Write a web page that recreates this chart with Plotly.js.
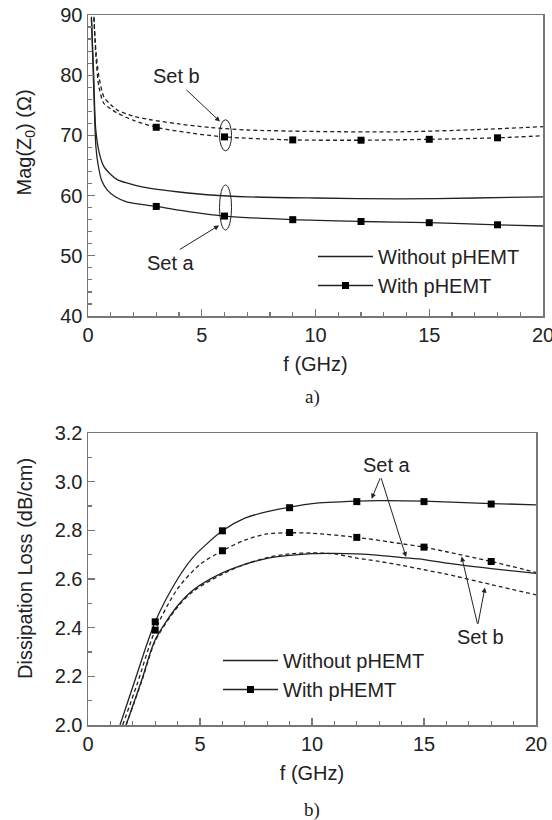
<!DOCTYPE html>
<html>
<head>
<meta charset="utf-8">
<script src="https://cdn.plot.ly/plotly-3.0.1.min.js"></script>
<style>html,body{margin:0;padding:0;background:#fff;}#chart{width:552px;height:820px;}</style>
</head>
<body>
<div id="chart"></div>
<script>
// ---------- (a) Mag(Z0) ----------
var aSetAWithoutX = [0.15,0.25,0.34,0.5,0.7,1.0,1.3,2.0,2.75,4,5.4,7,10,13.7,17,20];
var aSetAWithoutY = [89.7,80,71,67,64.8,63.5,62.6,61.8,61.2,60.6,60.1,59.8,59.6,59.45,59.6,59.8];
var aSetAWithX = [0.15,0.25,0.35,0.45,0.6,0.85,1.2,1.73,3,4.5,6,9,12,15,18,20];
var aSetAWithY = [89.5,78,68,65,62.5,60.9,59.8,58.9,58.2,57.3,56.6,56.0,55.7,55.5,55.15,54.95];
var aSetBWithoutX = [0.26,0.35,0.48,0.7,1.0,1.29,2,2.75,4,5.4,7,10,13.7,17,20];
var aSetBWithoutY = [89.7,84,79.8,76.4,75.1,74.2,73.2,72.6,71.9,71.3,70.9,70.65,70.6,70.95,71.45];
var aSetBWithX = [0.26,0.35,0.48,0.7,1.0,1.29,2,3,4.5,6,9,12,15,18,20];
var aSetBWithY = [89.5,83,78.1,75.3,74.4,73.7,72.5,71.35,70.4,69.75,69.25,69.2,69.35,69.6,69.95];
var markerX = [3,6,9,12,15,18];
var aSetAMarkY = [58.2,56.6,56.0,55.7,55.5,55.15];
var aSetBMarkY = [71.35,69.75,69.25,69.2,69.35,69.6];

// ---------- (b) Dissipation loss ----------
var bSetAWithX = [1.43,2.1,3,4,4.7,6,7,8,9,10,12,13,15,18,20];
var bSetAWithY = [2.0,2.185,2.424,2.60,2.69,2.798,2.85,2.877,2.895,2.91,2.92,2.922,2.92,2.91,2.905];
var bSetBWithX = [1.55,2.2,3,4,5,6,7,8,9,10,12,14,15,16,18,20];
var bSetBWithY = [2.0,2.17,2.39,2.56,2.66,2.716,2.76,2.785,2.79,2.788,2.771,2.745,2.731,2.712,2.672,2.627];
var bSetAWithoutX = [1.7,2.4,3,4,4.7,6,7,8,9,10,11,12,13,14,15,16,18,20];
var bSetAWithoutY = [2.0,2.185,2.35,2.49,2.555,2.625,2.66,2.685,2.697,2.704,2.705,2.703,2.697,2.688,2.68,2.665,2.643,2.623];
var bSetBWithoutX = [1.7,2.4,3,4,4.7,6,7,8,9,10,11,12,13,14,15,16,18,20];
var bSetBWithoutY = [2.0,2.18,2.345,2.485,2.55,2.62,2.66,2.688,2.703,2.707,2.703,2.686,2.672,2.656,2.638,2.62,2.577,2.535];
var bSetAMarkY = [2.424,2.798,2.893,2.918,2.918,2.908];
var bSetBMarkY = [2.39,2.716,2.791,2.771,2.731,2.672];

var legendNames = ['Without pHEMT', 'With pHEMT'];

var INK = '#222';
var FRAME = '#777';
var FONT = 'Liberation Sans, Arial, sans-serif';
var dashB = '4px,3px';

function line(x, y, xa, ya, dash, name, show, leg) {
  return {x: x, y: y, xaxis: xa, yaxis: ya, type: 'scatter', mode: 'lines',
    line: {color: INK, width: 1.3, dash: dash, shape: 'spline', smoothing: 0.8},
    name: name || '', showlegend: !!show, legend: leg || 'legend', hoverinfo: 'skip'};
}
function marks(x, y, xa, ya) {
  return {x: x, y: y, xaxis: xa, yaxis: ya, type: 'scatter', mode: 'markers',
    marker: {symbol: 'square', size: 7, color: '#000'}, showlegend: false, hoverinfo: 'skip'};
}
function legendWith(xa, ya, leg) {
  return {x: [null], y: [null], xaxis: xa, yaxis: ya, type: 'scatter', mode: 'lines+markers',
    line: {color: INK, width: 1.3}, marker: {symbol: 'square', size: 7, color: '#000'},
    name: legendNames[1], showlegend: true, legend: leg};
}

var traces = [
  line(aSetAWithoutX, aSetAWithoutY, 'x', 'y', 'solid', legendNames[0], true, 'legend'),
  legendWith('x', 'y', 'legend'),
  line(aSetAWithX, aSetAWithY, 'x', 'y', 'solid'),
  line(aSetBWithoutX, aSetBWithoutY, 'x', 'y', dashB),
  line(aSetBWithX, aSetBWithY, 'x', 'y', dashB),
  marks(markerX, aSetAMarkY, 'x', 'y'),
  marks(markerX, aSetBMarkY, 'x', 'y'),
  line(bSetAWithoutX, bSetAWithoutY, 'x2', 'y2', 'solid', legendNames[0], true, 'legend2'),
  legendWith('x2', 'y2', 'legend2'),
  line(bSetAWithX, bSetAWithY, 'x2', 'y2', 'solid'),
  line(bSetBWithoutX, bSetBWithoutY, 'x2', 'y2', dashB),
  line(bSetBWithX, bSetBWithY, 'x2', 'y2', dashB),
  marks(markerX, bSetAMarkY, 'x2', 'y2'),
  marks(markerX, bSetBMarkY, 'x2', 'y2')
];

var W = 552, H = 820;
function px(v) { return v / W; }
function py(v) { return 1 - v / H; }

function axisBase(extra) {
  var a = {
    showline: true, mirror: true, linecolor: FRAME, linewidth: 1.5,
    showgrid: false, zeroline: false,
    ticks: 'inside', ticklen: 7, tickwidth: 1.2, tickcolor: FRAME,
    ticklabeloverflow: 'allow',
    tickfont: {family: FONT, size: 20, color: INK}
  };
  for (var k in extra) a[k] = extra[k];
  return a;
}

var layout = {
  width: W, height: H,
  margin: {l: 0, r: 0, t: 0, b: 0},
  paper_bgcolor: '#fff', plot_bgcolor: '#fff',
  font: {family: FONT, color: INK},
  xaxis: axisBase({domain: [px(88), px(543)], range: [0, 20], dtick: 5, anchor: 'y',
    minor: {dtick: 1, ticks: 'inside', ticklen: 4, tickcolor: FRAME},
    title: {text: 'f (GHz)', font: {family: FONT, size: 20, color: INK}, standoff: 12}}),
  yaxis: axisBase({domain: [py(316), py(15)], range: [40, 90], dtick: 10, anchor: 'x',
    minor: {dtick: 2, ticks: 'inside', ticklen: 4, tickcolor: FRAME}}),
  xaxis2: axisBase({domain: [px(88), px(536)], range: [0, 20], dtick: 5, anchor: 'y2',
    minor: {dtick: 1, ticks: 'inside', ticklen: 4, tickcolor: FRAME},
    title: {text: 'f (GHz)', font: {family: FONT, size: 20, color: INK}, standoff: 12}}),
  yaxis2: axisBase({domain: [py(725), py(433)], range: [2.0, 3.2], dtick: 0.2, tickformat: '.1f', anchor: 'x2',
    minor: {dtick: 0.1, ticks: 'inside', ticklen: 4, tickcolor: FRAME}}),
  legend: {x: px(313), y: py(237), xanchor: 'left', yanchor: 'top', bgcolor: 'rgba(0,0,0,0)',
    font: {family: FONT, size: 20, color: INK}, itemwidth: 55, tracegroupgap: 0},
  legend2: {x: px(218), y: py(641), xanchor: 'left', yanchor: 'top', bgcolor: 'rgba(0,0,0,0)',
    font: {family: FONT, size: 20, color: INK}, itemwidth: 55, tracegroupgap: 0},
  shapes: [
    {type: 'circle', xref: 'x', yref: 'y', x0: 5.78, x1: 6.31, y0: 67.44, y1: 72.6, line: {color: INK, width: 1}},
    {type: 'circle', xref: 'x', yref: 'y', x0: 5.78, x1: 6.31, y0: 54.29, y1: 61.76, line: {color: INK, width: 1}}
  ],
  annotations: [
    {xref: 'paper', yref: 'paper', x: px(25), y: py(142.5), xanchor: 'center', yanchor: 'middle',
      text: 'Mag(Z<sub>0</sub>) (Ω)', textangle: -90,
      showarrow: false, font: {family: FONT, size: 20, color: INK}},
    {xref: 'paper', yref: 'paper', x: px(25), y: py(569), xanchor: 'center', yanchor: 'middle',
      text: 'Dissipation Loss (dB/cm)', textangle: -90,
      showarrow: false, font: {family: FONT, size: 20, color: INK}},
    {xref: 'paper', yref: 'paper', x: px(312), y: py(397), xanchor: 'center', yanchor: 'middle',
      text: 'a)', showarrow: false,
      font: {family: 'Liberation Serif, Times New Roman, serif', size: 19, color: INK}},
    {xref: 'paper', yref: 'paper', x: px(312), y: py(810), xanchor: 'center', yanchor: 'middle',
      text: 'b)', showarrow: false,
      font: {family: 'Liberation Serif, Times New Roman, serif', size: 19, color: INK}},
    // top plot labels
    {xref: 'x', yref: 'y', x: 3.91, y: 79.8, text: 'Set b', showarrow: false, font: {family: FONT, size: 20, color: INK}},
    {xref: 'x', yref: 'y', x: 5.80, y: 72.3, ax: 4.26, ay: 77.8, axref: 'x', ayref: 'y', text: '',
      showarrow: true, arrowhead: 2, arrowsize: 1, arrowwidth: 1, arrowcolor: INK, standoff: 0},
    {xref: 'x', yref: 'y', x: 3.66, y: 48.75, text: 'Set a', showarrow: false, font: {family: FONT, size: 20, color: INK}},
    {xref: 'x', yref: 'y', x: 5.76, y: 55.05, ax: 3.97, ay: 50.9, axref: 'x', ayref: 'y', text: '',
      showarrow: true, arrowhead: 2, arrowsize: 1, arrowwidth: 1, arrowcolor: INK, standoff: 0},
    // bottom plot labels
    {xref: 'x2', yref: 'y2', x: 13.37, y: 3.068, text: 'Set a', showarrow: false, font: {family: FONT, size: 20, color: INK}},
    {xref: 'x2', yref: 'y2', x: 12.66, y: 2.93, ax: 13.07, ay: 3.02, axref: 'x2', ayref: 'y2', text: '',
      showarrow: true, arrowhead: 2, arrowsize: 1, arrowwidth: 1, arrowcolor: INK, standoff: 0},
    {xref: 'x2', yref: 'y2', x: 14.2, y: 2.69, ax: 13.07, ay: 3.02, axref: 'x2', ayref: 'y2', text: '',
      showarrow: true, arrowhead: 2, arrowsize: 1, arrowwidth: 1, arrowcolor: INK, standoff: 0},
    {xref: 'x2', yref: 'y2', x: 17.5, y: 2.363, text: 'Set b', showarrow: false, font: {family: FONT, size: 20, color: INK}},
    {xref: 'x2', yref: 'y2', x: 16.68, y: 2.692, ax: 17.4, ay: 2.41, axref: 'x2', ayref: 'y2', text: '',
      showarrow: true, arrowhead: 2, arrowsize: 1, arrowwidth: 1, arrowcolor: INK, standoff: 0},
    {xref: 'x2', yref: 'y2', x: 17.72, y: 2.565, ax: 17.4, ay: 2.41, axref: 'x2', ayref: 'y2', text: '',
      showarrow: true, arrowhead: 2, arrowsize: 1, arrowwidth: 1, arrowcolor: INK, standoff: 0}
  ]
};

Plotly.newPlot('chart', traces, layout, {staticPlot: true, displayModeBar: false});
</script>
</body>
</html>
